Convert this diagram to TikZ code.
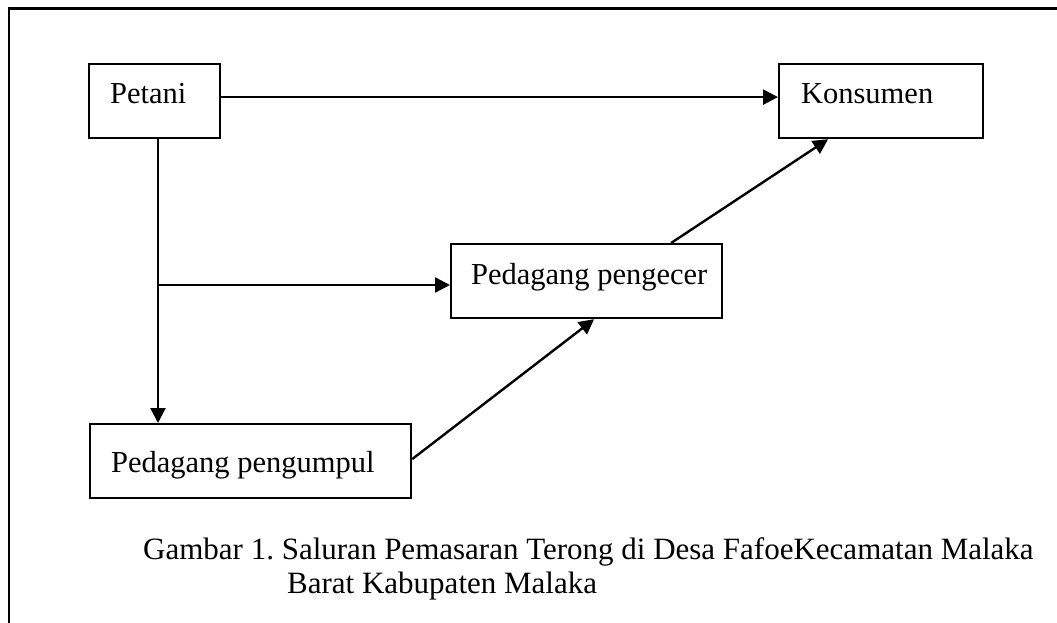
\documentclass[tikz,border=0pt]{standalone}
\usepackage{fontspec}
\setmainfont{Liberation Serif}
\usetikzlibrary{arrows.meta}
\frenchspacing
\begin{document}
\begin{tikzpicture}[x=1pt,y=-1pt,
  box/.style={draw,line width=2.2pt,inner sep=0pt,anchor=north west,
    font=\fontsize{30.5}{36}\selectfont},
  arr/.style={line width=2.4pt,-{Triangle[length=15pt,width=15pt]}},
  captext/.style={anchor=base west,inner sep=0pt,font=\fontsize{31}{36}\selectfont}]
\useasboundingbox (0,0) rectangle (1057,623);
\draw[line width=2.2pt] (9,623) -- (9,8.5) -- (1057,8.5);
\node[box,text height=39pt,text depth=35pt] (petani) at (88,63) {\makebox[131pt][l]{\hspace*{21pt}Petani}};
\node[box,text height=39pt,text depth=35pt] (konsumen) at (778,63) {\makebox[204pt][l]{\hspace*{22pt}Konsumen}};
\node[box,text height=40.5pt,text depth=33.5pt] (pengecer) at (450,243) {\makebox[271pt][l]{\hspace*{20pt}Pedagang pengecer}};
\node[box,text height=48pt,text depth=26pt] (pengumpul) at (89,423) {\makebox[321pt][l]{\hspace*{21pt}Pedagang pengumpul}};
\coordinate (j) at (158,285);
\draw[arr] ([yshift=4pt]petani.east) -- ([yshift=4pt]konsumen.west);
\draw[arr] (petani.south -| j) -- (pengumpul.north -| j);
\draw[arr] (j) -- (j -| pengecer.west);
\draw[arr] ([yshift=2pt]pengumpul.east) -- ([xshift=7.5pt]pengecer.south);
\draw[arr] ([xshift=84.5pt]pengecer.north) -- ([xshift=-53pt]konsumen.south);
\node[captext] (c1) at (143,559) {Gambar 1. Saluran Pemasaran Terong di Desa FafoeKecamatan Malaka};
\node[captext] (c2) at (287,593) {Barat Kabupaten Malaka};
\end{tikzpicture}
\end{document}
